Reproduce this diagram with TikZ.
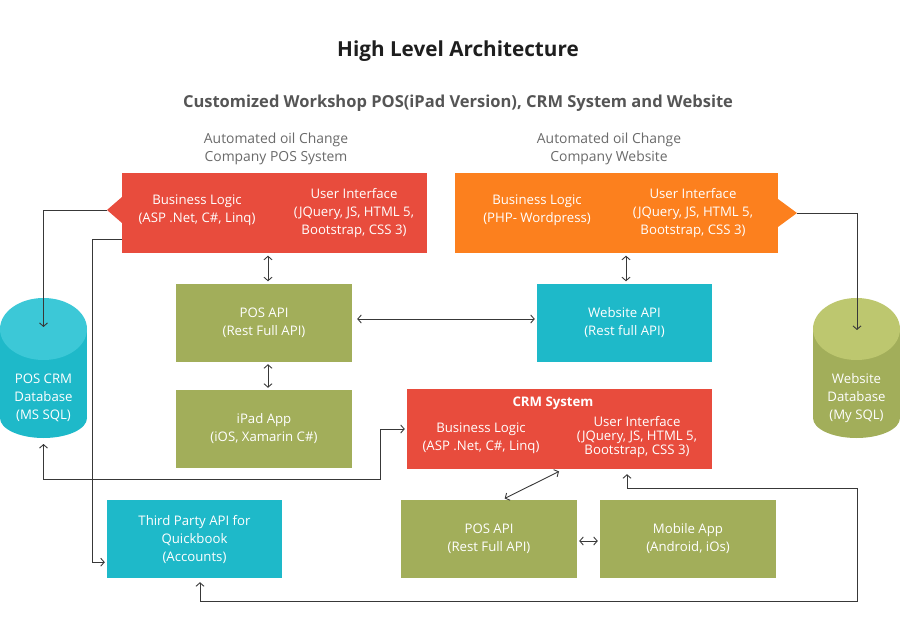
\documentclass[tikz,border=0pt]{standalone}
\usepackage{fontspec}
\setmainfont{Open Sans}
\usetikzlibrary{arrows.meta,positioning}

\definecolor{crmred}{HTML}{E84C3D}
\definecolor{weborange}{HTML}{FC801E}
\definecolor{apicyan}{HTML}{1EB9C9}
\definecolor{apicyantop}{HTML}{3CC8D7}
\definecolor{appolive}{HTML}{A2AE5A}
\definecolor{appolivetop}{HTML}{BDC76F}
\definecolor{linkgray}{HTML}{383838}
\definecolor{titlegray}{HTML}{1E1E1E}
\definecolor{subgray}{HTML}{555555}
\definecolor{capgray}{HTML}{6A6A6A}

\newcommand\boxfont{\fontsize{13.2}{18}\selectfont}

\begin{document}
\begin{tikzpicture}[x=1pt,y=-1pt,
  box/.style={minimum width=176pt,minimum height=78pt,inner sep=0pt,
    text=white,align=center,font=\boxfont},
  olive box/.style={box,fill=appolive},
  cyan box/.style={box,fill=apicyan},
  red box/.style={box,fill=crmred,minimum width=305pt,minimum height=80pt},
  orange box/.style={box,fill=weborange,minimum width=323pt,minimum height=80pt},
  inner text/.style={text=white,align=center,font=\boxfont,inner sep=0pt},
  caption/.style={text=capgray,align=center,font=\fontsize{13.9}{18}\selectfont,inner sep=0pt},
  link/.style={draw=linkgray,line width=0.9pt,-{Straight Barb[length=3.5pt,width=8pt]}},
  both link/.style={link,{Straight Barb[length=3.5pt,width=8pt]}-{Straight Barb[length=3.5pt,width=8pt]}}]

  \useasboundingbox (0,0) rectangle (900,620);

  % headings
  \node[font=\fontsize{20.7}{24}\selectfont\bfseries,text=titlegray] (title) at (458,51) {High Level Architecture};
  \node[font=\fontsize{16.5}{20}\selectfont\bfseries,text=subgray] (subtitle) at (458,103)
    {Customized Workshop POS(iPad Version), CRM System and Website};
  \node[caption] (poscap) at (276,149) {Automated oil Change\\Company POS System};
  \node[caption] (webcap) at (609,149) {Automated oil Change\\Company Website};

  % POS system
  \node[red box] (pos) at (274.5,213) {};
  \coordinate (posnotch) at (107,210);
  \fill[crmred] (122,197) -- (posnotch) -- (122,223) -- cycle;
  \node[inner text] (posbl) at (197,210) {Business Logic\\(ASP .Net, C\#, Linq)};
  \node[inner text] (posui) at (354,213) {User Interface\\(JQuery, JS, HTML 5,\\Bootstrap, CSS 3)};

  % website
  \node[orange box] (web) at (616.5,213) {};
  \coordinate (webnotch) at (797,213);
  \fill[weborange] (778,199) -- (webnotch) -- (778,227) -- cycle;
  \node[inner text] (webbl) at (537,210) {Business Logic\\(PHP- Wordpress)};
  \node[inner text] (webui) at (693,213) {User Interface\\(JQuery, JS, HTML 5,\\Bootstrap, CSS 3)};

  \node[olive box] (posapi) at (264,323) {POS API\\(Rest Full API)};
  \node[olive box] (ipad) at (264,429) {iPad App\\(iOS, Xamarin C\#)};
  \node[cyan box,minimum width=175pt] (webapi) at (624.5,323) {Website API\\(Rest full API)};

  % CRM
  \node[red box] (crm) at (559.5,429) {};
  \node[inner text,font=\boxfont\bfseries] (crmtitle) at (553,403) {CRM System};
  \node[inner text] (crmbl) at (481,438) {Business Logic\\(ASP .Net, C\#, Linq)};
  \node[inner text,font=\fontsize{13.2}{14}\selectfont] (crmui) at (637,437) {User Interface\\(JQuery, JS, HTML 5,\\Bootstrap, CSS 3)};

  \node[olive box] (crmapi) at (489,539) {POS API\\(Rest Full API)};
  \node[olive box] (mobile) at (688,539) {Mobile App\\(Android, iOs)};
  \node[cyan box,minimum width=175pt] (third) at (194.5,539) {Third Party API for\\Quickbook\\(Accounts)};

  % databases
  \fill[apicyan] (0,329) rectangle (87,418);
  \fill[apicyan] (43.5,418) ellipse[x radius=43.5pt,y radius=20pt];
  \fill[apicyantop] (43.5,329) ellipse[x radius=43.5pt,y radius=31pt];
  \node[inner text] (posdb) at (43.5,398) {POS CRM\\Database\\(MS SQL)};
  \coordinate (posdbin) at (43.5,327);
  \coordinate (posdbout) at (43.5,444);

  \fill[appolive] (813,329) rectangle (900,418);
  \fill[appolive] (856.5,418) ellipse[x radius=43.5pt,y radius=20pt];
  \fill[appolivetop] (856.5,329) ellipse[x radius=43.5pt,y radius=31pt];
  \node[inner text] (webdb) at (856.5,398) {Website\\Database\\(My SQL)};
  \coordinate (webdbin) at (857,330);

  % connectors
  \coordinate (bendA) at (380,479);
  \coordinate (loopA) at (857,601);
  \coordinate (loopB) at (857,488);

  \draw[link] (posnotch) -| (posdbin);
  \draw[link] (webnotch) -| (webdbin);
  \draw[link,shorten >=2pt] ([yshift=14pt]pos.south west) -- ++(-29,0) |- ([yshift=16pt]third.south west);
  \draw[both link,shorten >=2pt] (posdbout) |- (bendA) |- (crm.west);
  \draw[both link,shorten <=4pt,shorten >=5pt] ([xshift=5.5pt]third.south) |- (loopA) -- (loopB) -| ([xshift=67.5pt]crm.south);

  \draw[both link,shorten <=2.5pt,shorten >=2.5pt] ([xshift=4pt]pos.south -| posapi.north) -- ([xshift=4pt]posapi.north);
  \draw[both link,shorten <=2pt,shorten >=2pt] ([xshift=4pt]posapi.south) -- ([xshift=4pt]ipad.north);
  \draw[both link,shorten <=2.5pt,shorten >=2.5pt] ([xshift=1.5pt]web.south -| webapi.north) -- ([xshift=1.5pt]webapi.north);
  \draw[both link,shorten <=5pt,shorten >=2pt] ([yshift=4pt]posapi.east) -- ([yshift=4pt]webapi.west);
  \draw[both link,shorten <=2pt,shorten >=2pt] ([yshift=-2pt]crmapi.east) -- ([yshift=-2pt]mobile.west);
  \draw[both link,shorten <=3pt,shorten >=5pt] ([xshift=13pt]crmapi.north) -- ([xshift=4pt]crm.south);
\end{tikzpicture}
\end{document}
